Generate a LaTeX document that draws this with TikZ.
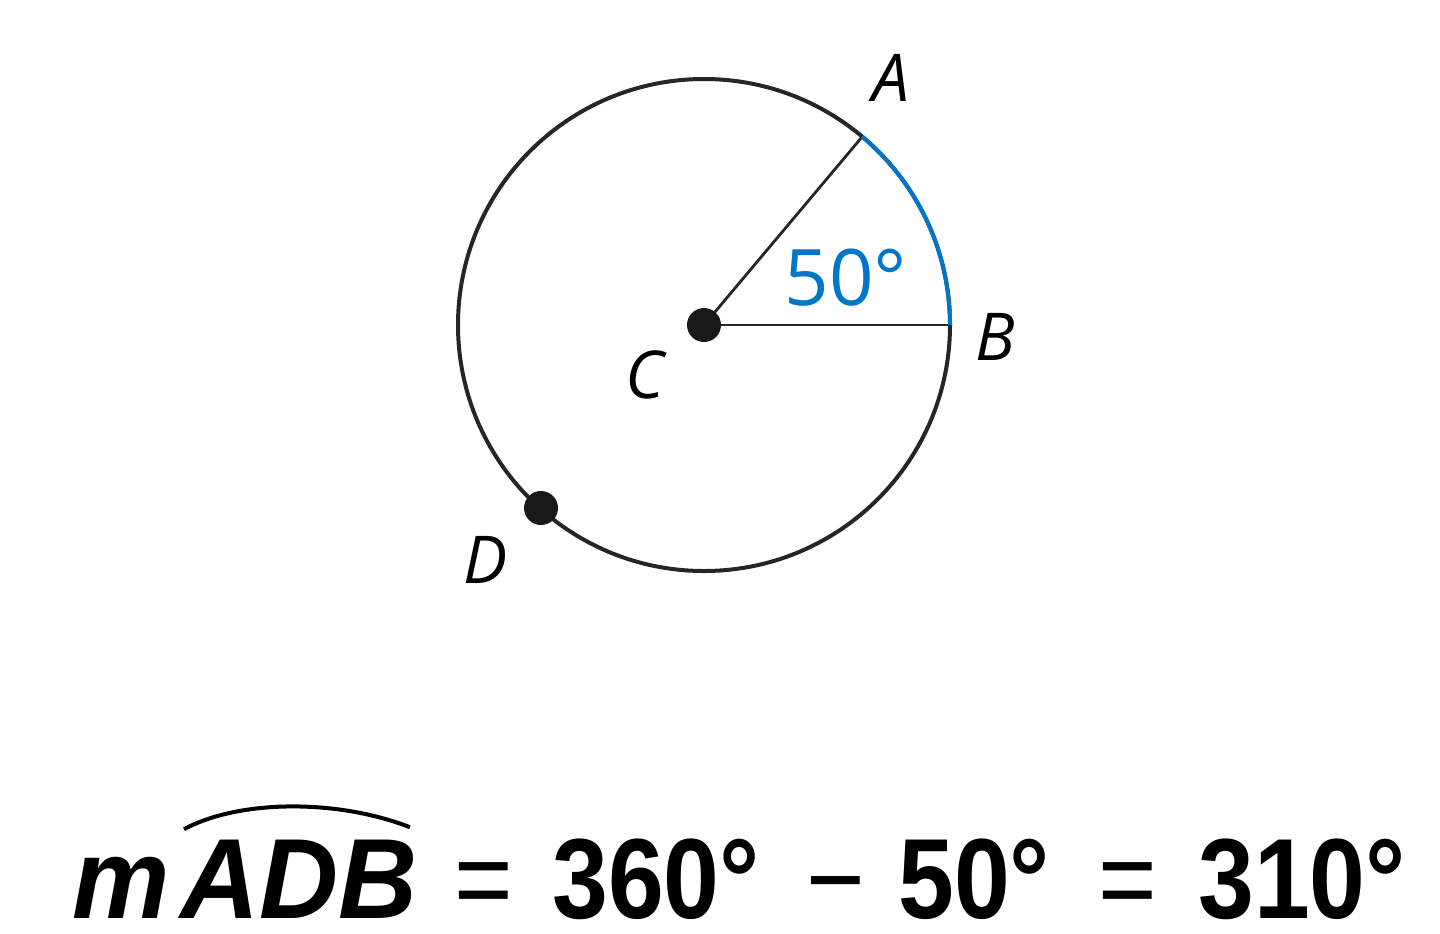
\documentclass[tikz,border=0pt]{standalone}
\usepackage{fontspec}
\setmainfont{Open Sans}
\newfontfamily\eqfont[FakeStretch=0.88]{Liberation Sans}
\newfontfamily\eqitfont[FakeStretch=0.96]{Liberation Sans}
\definecolor{arcblue}{RGB}{0,118,200}
\tikzset{
  ptlabel/.style={inner sep=0pt, font=\fontsize{33}{33}\selectfont\itshape},
  eqtext/.style={inner sep=0pt, anchor=base west, font=\fontsize{57}{57}\selectfont\eqfont},
  eqvar/.style={eqtext, font=\fontsize{57}{57}\selectfont\eqitfont\bfseries\itshape},
  ptdot/.style={fill=black!90, draw=none},
}
\begin{document}
\begin{tikzpicture}[x=0.5pt,y=0.5pt,yscale=-1,xscale=1]
\useasboundingbox (0,0) rectangle (1440,933);

% circle and points
\coordinate (C) at (704,325);
\coordinate (A) at (862,137);
\coordinate (B) at (950,325);
\coordinate (D) at (541,508);
\draw [line width=2pt, black!85] (C) circle (246);
\draw [line width=1.4pt, black!85] (C) -- (A);
\draw [line width=1.4pt, black!85] (C) -- (B);
% blue arc AB
\draw [line width=2pt, arcblue] (B) arc [start angle=0, end angle=-50, radius=246];
\fill [ptdot] (C) circle (17);
\fill [ptdot] (D) circle (17);

% Text Node
\node (lblA) [ptlabel] at (891,78) {A};
\node (lblB) [ptlabel] at (995,337) {B};
\node (lblC) [ptlabel] at (645,375) {C};
\node (lblD) [ptlabel] at (486,560) {D};
\node (angle) [inner sep=0pt, text=arcblue, font=\fontsize{39}{39}\selectfont] at (846,278) {50°};

% equation
\node (m) [eqvar] at (72,918) {m};
\node (adb) [eqvar] at (180,918) {ADB};
\draw [line width=2pt] ([xshift=2,yshift=-5]adb.north west) .. controls ([xshift=30,yshift=-20]adb.north west) and ([xshift=-40,yshift=-20]adb.north east) .. ([xshift=-4,yshift=-6]adb.north east);
\node (eq1) [eqtext] at (454,918) {=};
\node (n360) [eqtext] at (552,918) {\bfseries 360°};
\node (minus) [eqtext] at (806,918) {−};
\node (n50) [eqtext] at (898,918) {\bfseries 50°};
\node (eq2) [eqtext] at (1098,918) {=};
\node (n310) [eqtext] at (1198,918) {\bfseries 310°};

\end{tikzpicture}
\end{document}
